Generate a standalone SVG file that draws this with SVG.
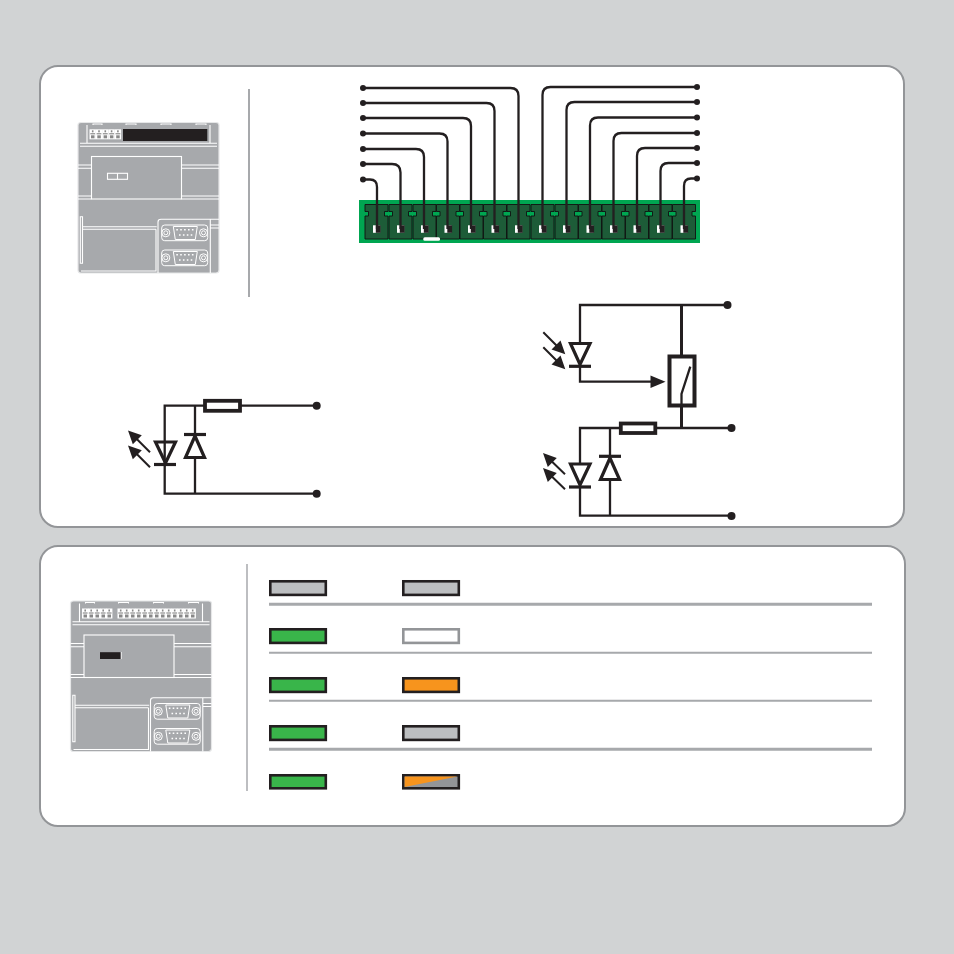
<svg xmlns="http://www.w3.org/2000/svg" xmlns:xlink="http://www.w3.org/1999/xlink" width="954" height="954" viewBox="0 0 954 954">
<style>
.panel{fill:#fff;stroke:#939598;stroke-width:2}
.div{stroke:#a7a9ac;fill:none}
.t{fill:none;stroke:#231f20;stroke-width:2.300}
.w{fill:none;stroke:#231f20;stroke-width:2.300}
.ws{fill:none;stroke:#231f20;stroke-width:2}
.th{fill:none;stroke:#231f20;stroke-width:3.200}
.hd{fill:#231f20}
.res{fill:#fff;stroke:#231f20;stroke-width:3.800}
.dv{fill:none;stroke:#fff;stroke-width:1.100}
.dvt{fill:none;stroke:#fff;stroke-width:1}
.g{fill:#39b54a}.o{fill:#f7941d}.y{fill:#bcbec0}.wh{fill:#fff}.mg{fill:#939598}
.bk{stroke:#231f20;stroke-width:2.600}
</style>
<defs>
<g id="cell">
<path d="M0 0H23V7H19.500V11.500H23V34.500H0V11.500H3.500V7H0Z" fill="#1d5c38" stroke="#111" stroke-width=".9"/>
<rect x="8" y="20.800" width="7.200" height="7.500" fill="#fff"/>
<rect x="10.800" y="20.800" width="4.800" height="7.500" fill="#231f20"/>
</g>
<g id="dev">
<path d="M3 .5H138Q141 .5 141 3V148Q141 151 138 151H3Q0 151 0 148V3Q0 .5 3 .5Z" fill="#a7a9ac" stroke="#e6e7e8" stroke-width="1.200"/>
<path class="dv" d="M15 3V2H24V3M48 3V2H58V3M83 3V2H93V3M118 3V2H128V3M9 3V21M132 3V21M2 21.300H139M2 24.300H139M0 43H13.500M0 46.300H13.500M103.500 43H141M103.500 46.300H141M0 74H13.500M0 77H13.500M103.500 74H141M103.500 77H141"/>
<rect class="dv" x="13.500" y="34.500" width="90" height="42.500"/>
<path class="dv" d="M4.500 94.700H2.300V141.300H4.500ZM4.500 104.700H78.700M4.500 107.300H78M78 107.300V149H3M80 151V100Q80 97.300 83 97.300H141M132.300 97.300V151M132.300 103H141M132.300 106H141"/>
<g id="dsub1">
<rect class="dvt" x="83.700" y="103" width="46" height="15.700" rx="3"/>
<circle class="dvt" cx="87.800" cy="110.800" r="4"/><circle class="dvt" cx="125.500" cy="110.800" r="4"/>
<circle class="dvt" cx="87.800" cy="110.800" r="2"/><circle class="dvt" cx="125.500" cy="110.800" r="2"/>
<path class="dvt" d="M95.300 104.500H119.300L117.300 117.500H97.300Z"/>
<path d="M98.300 107.800H116.500M101 113H114.500" fill="none" stroke="#fff" stroke-width="1.600" stroke-dasharray="1.600 2.300"/>
</g>
<use xlink:href="#dsub1" href="#dsub1" y="25"/>
</g>
<g id="tn">
<rect width="6.400" height="10" fill="#fff"/>
<path d="M.8 4.500H5.600" stroke="#777" stroke-width="1"/>
<rect x="1.500" y="6" width="3.500" height="3" fill="#888"/>
<rect x="2.400" y="1" width="1.600" height="2" fill="#888"/>
</g>
</defs>
<rect width="954" height="954" fill="#d1d3d4"/>
<rect class="panel" x="40" y="66" width="864" height="461" rx="18"/>
<rect class="panel" x="40" y="546" width="865" height="280" rx="18"/>
<path class="div" stroke-width="2" d="M249 89V297"/>
<path class="div" stroke-width="1.500" d="M247 564V791"/>

<g id="device-top" transform="translate(78 122)">
<use xlink:href="#dev" href="#dev"/>
<use xlink:href="#tn" href="#tn" x="11.500" y="7.300"/><use xlink:href="#tn" href="#tn" x="17.800" y="7.300"/><use xlink:href="#tn" href="#tn" x="24.100" y="7.300"/><use xlink:href="#tn" href="#tn" x="30.400" y="7.300"/><use xlink:href="#tn" href="#tn" x="36.700" y="7.300"/>
<rect x="45" y="7" width="84.300" height="12" fill="#231f20"/>
<rect class="dv" x="29.500" y="51.300" width="20" height="6"/><path class="dv" d="M39.500 51.300V57.300"/>
</g>

<g id="device-bottom" transform="translate(70.500 600.500)">
<use xlink:href="#dev" href="#dev"/>
<use xlink:href="#tn" href="#tn" x="11.500" y="8"/><use xlink:href="#tn" href="#tn" x="17.500" y="8"/><use xlink:href="#tn" href="#tn" x="23.500" y="8"/><use xlink:href="#tn" href="#tn" x="29.500" y="8"/><use xlink:href="#tn" href="#tn" x="35.500" y="8"/>
<use xlink:href="#tn" href="#tn" x="47" y="8"/><use xlink:href="#tn" href="#tn" x="53" y="8"/><use xlink:href="#tn" href="#tn" x="59" y="8"/><use xlink:href="#tn" href="#tn" x="65" y="8"/><use xlink:href="#tn" href="#tn" x="71" y="8"/><use xlink:href="#tn" href="#tn" x="77" y="8"/><use xlink:href="#tn" href="#tn" x="83" y="8"/><use xlink:href="#tn" href="#tn" x="89" y="8"/><use xlink:href="#tn" href="#tn" x="95" y="8"/><use xlink:href="#tn" href="#tn" x="101" y="8"/><use xlink:href="#tn" href="#tn" x="107" y="8"/><use xlink:href="#tn" href="#tn" x="113" y="8"/><use xlink:href="#tn" href="#tn" x="119" y="8"/>
<rect x="29.500" y="51.700" width="20.700" height="6.800" fill="#231f20"/>
<path d="M50.800 51.500V58.500" stroke="#fff" stroke-width=".8"/>
</g>

<g id="terminal-block">
<rect x="359" y="200" width="341" height="43" fill="#00a651"/>
<use xlink:href="#cell" href="#cell" x="365" y="204.500"/><use xlink:href="#cell" href="#cell" x="389" y="204.500"/><use xlink:href="#cell" href="#cell" x="413" y="204.500"/><use xlink:href="#cell" href="#cell" x="436.500" y="204.500"/><use xlink:href="#cell" href="#cell" x="460" y="204.500"/><use xlink:href="#cell" href="#cell" x="483.500" y="204.500"/><use xlink:href="#cell" href="#cell" x="507" y="204.500"/><use xlink:href="#cell" href="#cell" x="531" y="204.500"/><use xlink:href="#cell" href="#cell" x="555" y="204.500"/><use xlink:href="#cell" href="#cell" x="578.500" y="204.500"/><use xlink:href="#cell" href="#cell" x="602" y="204.500"/><use xlink:href="#cell" href="#cell" x="625.500" y="204.500"/><use xlink:href="#cell" href="#cell" x="649" y="204.500"/><use xlink:href="#cell" href="#cell" x="672.500" y="204.500"/>
<rect x="423.300" y="237.300" width="16.700" height="3.400" rx="1.500" fill="#fff"/>
</g>

<g id="connectors">
<path class="w" d="M363 179.500H370Q377 179.500 377 187V229"/>
<path class="w" d="M363 164H392Q400.500 164 400.500 172.500V229"/>
<path class="w" d="M363 149H416Q424 149 424 157V229"/>
<path class="w" d="M363 133.500H439.500Q447.500 133.500 447.500 141.500V229"/>
<path class="w" d="M363 118H463Q471 118 471 126V229"/>
<path class="w" d="M363 103H486.500Q494.500 103 494.500 111V229"/>
<path class="w" d="M363 88H510.500Q518.500 88 518.500 96V229"/>
<path class="w" d="M697 87H550.500Q542.500 87 542.500 95V229"/>
<path class="w" d="M697 102H574.500Q566.500 102 566.500 110V229"/>
<path class="w" d="M697 117.500H598Q590 117.500 590 125.500V229"/>
<path class="w" d="M697 133H621.500Q613.500 133 613.500 141V229"/>
<path class="w" d="M697 148H645Q637 148 637 156V229"/>
<path class="w" d="M697 163H668.500Q660.500 163 660.500 171V229"/>
<path class="w" d="M697 178.500H691Q684 178.500 684 186V229"/>
<g class="hd">
<circle cx="363" cy="179.500" r="3"/><circle cx="363" cy="164" r="3"/><circle cx="363" cy="149" r="3"/><circle cx="363" cy="133.500" r="3"/><circle cx="363" cy="118" r="3"/><circle cx="363" cy="103" r="3"/><circle cx="363" cy="88" r="3"/>
<circle cx="697" cy="87" r="3"/><circle cx="697" cy="102" r="3"/><circle cx="697" cy="117.500" r="3"/><circle cx="697" cy="133" r="3"/><circle cx="697" cy="148" r="3"/><circle cx="697" cy="163" r="3"/><circle cx="697" cy="178.500" r="3"/>
</g>
</g>

<g id="circuit-output">
<path class="t" d="M316.500 405.700H164.700V493.700H316.500M195 405.700V434M195 458V493.700"/>
<rect class="res" x="205" y="400.800" width="35" height="10"/>
<path class="th" d="M155.500 442H175.500L165.500 463Z"/><path class="th" d="M154 464.500H176"/>
<path class="th" d="M195 436L185.500 457.500H204.500Z"/><path class="th" d="M184 434.500H206"/>
<path class="ws" d="M150 452.300L134 436.300M150 467.300L134 451.300"/>
<path class="hd" d="M128 430.500L141.800 435.200L132.800 444.200ZM128 445.500L141.800 450.200L132.800 459.200Z"/>
<circle class="hd" cx="316.700" cy="405.700" r="4"/><circle class="hd" cx="316.700" cy="493.700" r="4"/>
</g>

<g id="circuit-input">
<path class="t" d="M727.500 305H580V343M580 366V381.700H652"/>
<path d="M681.500 305V356M681.500 406V428" fill="none" stroke="#231f20" stroke-width="3"/>
<path class="hd" d="M665.500 381.700L650.500 375.500V387.900Z"/>
<rect x="669.500" y="356.500" width="25" height="49" fill="#fff" stroke="#231f20" stroke-width="4"/>
<path class="t" d="M690.300 366.700L681.500 394V404"/>
<path class="th" d="M570.500 343.500H590L580 364.500Z"/><path class="th" d="M569 366.300H591"/>
<path class="ws" d="M543.300 332.300L560 349M543.300 347.300L560 364"/>
<path class="hd" d="M565.300 354.300L551.500 349.500L560.500 340.500ZM565.300 369.300L551.500 364.500L560.500 355.500Z"/>
<path class="t" d="M731.500 428H580V464M580 487V515.700H731.500M610 428V456M610 480V515.700"/>
<rect class="res" x="620.800" y="423.500" width="34.500" height="9.500"/>
<path class="th" d="M570.500 464H590L580 485Z"/><path class="th" d="M569 487H591"/>
<path class="th" d="M610 458L600.500 479.500H619.500Z"/><path class="th" d="M599 456.300H621"/>
<path class="ws" d="M565 474.300L549 458.800M565 489.300L549 473.800"/>
<path class="hd" d="M543 453L556.800 458L547.800 467ZM543 468L556.800 473L547.800 482Z"/>
<circle class="hd" cx="727.500" cy="305" r="4"/><circle class="hd" cx="731.500" cy="428" r="4"/><circle class="hd" cx="731.500" cy="516" r="4"/>
</g>

<g id="legend">
<path class="div" stroke-width="3" d="M269 604.300H872M269 749.300H872"/>
<path class="div" stroke-width="2" d="M269 652.800H872M269 700.800H872"/>
<g class="bk">
<rect class="y" x="270.300" y="581.300" width="55.500" height="13.600"/>
<rect class="y" x="403.300" y="581.300" width="55.500" height="13.600"/>
<rect class="g" x="270.300" y="629.300" width="55.500" height="13.600"/>
<rect class="g" x="270.300" y="678.300" width="55.500" height="13.600"/>
<rect class="o" x="403.300" y="678.300" width="55.500" height="13.600"/>
<rect class="g" x="270.300" y="726.300" width="55.500" height="13.600"/>
<rect class="y" x="403.300" y="726.300" width="55.500" height="13.600"/>
<rect class="g" x="270.300" y="775.300" width="55.500" height="13"/>
<rect class="mg" x="403.300" y="775.300" width="55.500" height="13"/>
</g>
<rect class="wh" x="403.300" y="629.300" width="55.500" height="13.600" stroke="#939598" stroke-width="2.600"/>
<path class="o" d="M404.600 776.600H457.500L404.600 787Z"/>
</g>
</svg>
